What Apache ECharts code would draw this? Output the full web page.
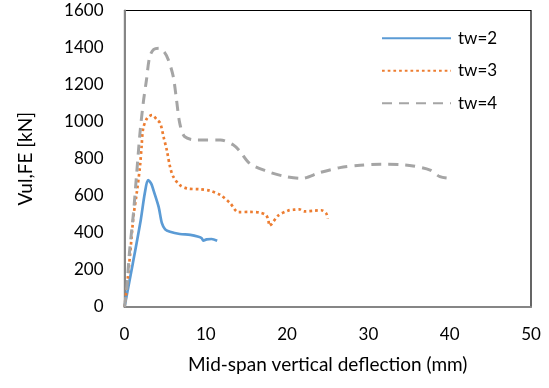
<!DOCTYPE html>
<html><head><meta charset="utf-8">
<script src="https://cdn.jsdelivr.net/npm/echarts@6/dist/echarts.min.js"></script>
<style>html,body{margin:0;padding:0;background:#fff}#c{width:549px;height:388px}</style>
</head><body><div id="c"></div>
<script>
const seriesNames = ['tw=2', 'tw=3', 'tw=4'];
const tw2 = [[0,0],[1,230],[2,470],[2.5,615],[2.9,685],[3.3,665],[3.6,625],[4.2,540],[4.6,452],[5.0,419],[5.6,406],[6.8,394],[8.1,389],[9.1,379],[9.5,371],[9.7,358],[10.1,365],[10.7,367],[11.4,358]];
const tw3 = [[0,0],[0.3,110],[0.7,290],[1.1,487],[1.5,614],[1.9,757],[2.1,865],[2.3,964],[2.8,1020],[3.4,1036],[4.0,1010],[4.4,991],[4.8,919],[5.2,847],[5.6,757],[6.0,703],[6.8,658],[7.7,640],[9.3,635],[10.5,628],[11.8,604],[13.0,560],[14.0,512],[15.4,513],[16.7,509],[17.4,496],[17.7,469],[17.8,439],[18.1,448],[18.9,493],[20.1,520],[20.8,525],[21.5,527],[22.1,516],[23.4,520],[24.2,522],[24.8,506],[25.0,477]];
const tw4 = [[0,0],[0.3,110],[0.6,290],[1.1,506],[1.5,722],[1.9,937],[2.3,1099],[2.7,1225],[3.1,1351],[3.6,1390],[4.3,1396],[4.9,1375],[5.4,1333],[6.0,1243],[6.4,1117],[6.8,991],[7.4,919],[8.9,901],[11.8,901],[13.4,874],[14.2,840],[15.4,775],[17.3,736],[19.5,707],[21.8,694],[24.0,725],[26.5,752],[29.0,765],[31.5,770],[33.9,768],[35.5,761],[37.6,739],[38.8,703],[40.0,694]];
const xTicks = [0,10,20,30,40,50];
const yTicks = [0,200,400,600,800,1000,1200,1400,1600];

const font = 'Lato, "Open Sans", sans-serif';
const chart = echarts.init(document.getElementById('c'), null, {renderer:'canvas'});
chart.setOption({
  animation: false,
  backgroundColor: '#fff',
  grid: {left: 124.5, right: 18, top: 10.5, bottom: 81, show: true, borderColor: '#000', borderWidth: 1.2, containLabel: false},
  legend: {
    orient: 'vertical', left: 381, top: 29.3, padding: 0, itemWidth: 69, itemHeight: 18, itemGap: 14.5,
    itemStyle: {opacity: 0},
    textStyle: {fontFamily: font, fontSize: 17, lineHeight: 18, color: '#000', padding: [0,0,0,2]},
    data: seriesNames
  },
  xAxis: {
    type: 'value', min: 0, max: 50, interval: 10,
    name: 'Mid-span vertical deflection (mm)', nameLocation: 'middle', nameGap: 48,
    nameTextStyle: {fontFamily: font, fontSize: 19, color: '#000'},
    axisLine: {show: true, onZero: false, lineStyle: {color: '#868686', width: 2}},
    axisTick: {show: false},
    splitLine: {show: false},
    axisLabel: {fontFamily: font, fontSize: 17, color: '#000', margin: 19,
      formatter: v => xTicks.includes(v) ? String(v) : ''}
  },
  yAxis: {
    type: 'value', min: 0, max: 1600, interval: 200,
    name: 'Vul,FE [kN]', nameLocation: 'middle', nameGap: 89,
    nameTextStyle: {fontFamily: font, fontSize: 19, color: '#000'},
    axisLine: {show: true, lineStyle: {color: '#868686', width: 2}},
    axisTick: {show: false},
    splitLine: {show: false},
    axisLabel: {fontFamily: font, fontSize: 17, color: '#000', margin: 21,
      formatter: v => yTicks.includes(v) ? String(v) : ''}
  },
  series: [
    {name: seriesNames[0], type: 'line', data: tw2, smooth: 0.3, symbol: 'none',
     lineStyle: {color: '#5B9BD5', width: 2.7}, itemStyle: {color: '#5B9BD5'}},
    {name: seriesNames[1], type: 'line', data: tw3, smooth: 0.3, symbol: 'none',
     lineStyle: {color: '#ED7D31', width: 2.7, type: [2.7, 3], cap: 'butt'}, itemStyle: {color: '#ED7D31'}},
    {name: seriesNames[2], type: 'line', data: tw4, smooth: 0.3, symbol: 'none',
     lineStyle: {color: '#A5A5A5', width: 3, type: [10, 7]}, itemStyle: {color: '#A5A5A5'}}
  ]
});
</script></body></html>
